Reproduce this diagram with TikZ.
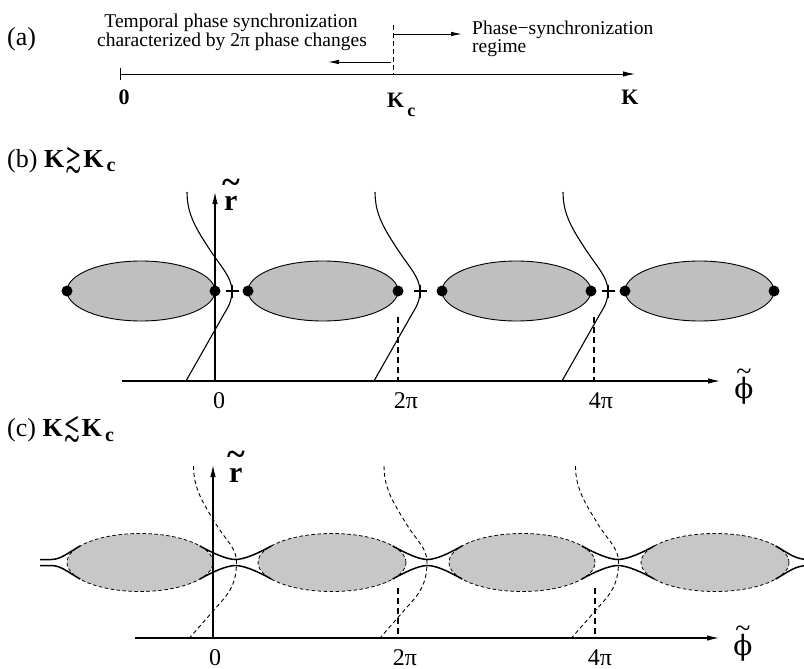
\documentclass[tikz,border=0pt]{standalone}
\usepackage{amsmath}
\usepackage{amssymb}
\usepackage{graphicx}
\usepackage{fontspec}
\setmainfont{Liberation Serif}
\newfontfamily\phifont{DejaVu Serif}
\usetikzlibrary{arrows.meta}
\tikzset{
  axarrow/.style={-{Latex[length=12pt,width=5.5pt]}},
  axisline/.style={line width=1.1pt},
  fillb/.style={fill=black!25, draw=black, line width=0.9pt},
  fillc/.style={fill=black!22, draw=black, line width=0.8pt, dash pattern=on 3.5pt off 2.5pt},
  scurve/.style={line width=1.1pt},
  dcurve/.style={line width=0.9pt, dash pattern=on 4pt off 3pt},
  tickdash/.style={line width=1.3pt, dash pattern=on 6pt off 4pt},
  chan/.style={line width=1.5pt},
  blackdot/.style={fill=black},
  txt/.style={font=\fontsize{19.5}{19}\selectfont, inner sep=0pt},
  lbl/.style={font=\fontsize{24}{24}\selectfont, inner sep=0pt},
  headtxt/.style={font=\fontsize{26}{26}\selectfont, inner sep=0pt},
  boldlbl/.style={font=\fontsize{22}{22}\selectfont\bfseries, inner sep=0pt},
  greek/.style={font=\fontsize{28}{28}\selectfont, inner sep=0pt},
  rlbl/.style={font=\fontsize{30}{30}\selectfont\bfseries, inner sep=0pt},
}
\newcommand\chanpair[4]{%
  \pgfmathsetmacro\chXa{#1+0.819*#2}%
  \pgfmathsetmacro\chXb{#3-0.819*#4}%
  \pgfmathsetmacro\chQ{(#1+#2+#3-#4)/2}%
  \draw[chan] (\chXa,545.9) .. controls (\chXa+12.2,552.8) and (\chQ-9,559.5) .. (\chQ,559.5)
     .. controls (\chQ+9,559.5) and (\chXb-12.2,552.8) .. (\chXb,545.9);
  \draw[chan] (\chXa,579.1) .. controls (\chXa+12.2,572.2) and (\chQ-9,565.5) .. (\chQ,565.5)
     .. controls (\chQ+9,565.5) and (\chXb-12.2,572.2) .. (\chXb,579.1);
}
\newcommand\rtil{\ooalign{r\cr\hidewidth\raisebox{17pt}{\fontsize{34}{34}\selectfont\textasciitilde}\hidewidth\cr}}
\newcommand\phitil{\ooalign{\phifont ϕ\cr\hidewidth\raisebox{18pt}{\textasciitilde}\hidewidth\cr}}
\newcommand\headK[1]{\textbf{K}\hspace{2pt}\scalebox{0.75}[1]{$\pmb{#1}$}\hspace{2pt}\textbf{K}\hspace{3pt}\raisebox{-5pt}{\fontsize{20}{20}\selectfont\bfseries c}}
\begin{document}
\begin{tikzpicture}[x=1pt,y=-1pt]
\useasboundingbox (0,0) rectangle (804,669);

% ---------------- panel (a)
\node[headtxt, anchor=base west] (la) at (7,46) {(a)};
\node[txt, anchor=base] (t1) at (231,28) {Temporal phase synchronization};
\node[txt, anchor=base] (t2) at (232,47) {characterized by 2π phase changes};
\node[txt, anchor=base west] (t3) at (472,35) {Phase−synchronization};
\node[txt, anchor=base west] (t4) at (472,53) {regime};
\coordinate (a0) at (120,74);
\coordinate (aE) at (635,74);
\draw[line width=0.9pt, axarrow] (a0) -- (aE);
\draw[line width=0.9pt] (120,68) -- (120,80);
\coordinate (kcTop) at (393,25);
\coordinate (kcBot) at (393,74);
\draw[line width=0.9pt, dash pattern=on 5pt off 3pt] (kcTop) -- (kcBot);
\coordinate (rA0) at (393,34);
\coordinate (rA1) at (462,34);
\draw[line width=0.9pt, -{Latex[length=11pt,width=4.5pt]}] (rA0) -- (rA1);
\coordinate (lA0) at (391,62);
\coordinate (lA1) at (328,62);
\draw[line width=0.9pt, -{Latex[length=11pt,width=4.5pt]}] (lA0) -- (lA1);
\node[boldlbl, anchor=base] (l0) at (124,105) {0};
\node[boldlbl, anchor=base] (lK) at (630,104) {K};
\node[boldlbl, anchor=base west] (lKc) at (387,108) {K\hspace{3pt}\raisebox{-9pt}{\fontsize{18}{18}\selectfont c}};

% ---------------- panel (b)
\node[headtxt, anchor=base west] (hb) at (7,167) {(b) \headK{\gtrsim}};
\foreach \cx/\ax in {141/74, 323/75, 516.5/74.5, 699.5/74.5}
  \draw[fillb] (\cx,291) ellipse [x radius=\ax pt, y radius=30pt];
\foreach \q in {232,420,608}
  \draw[scurve, shift={(\q,0)}] (-45,192) .. controls (-45,215) and (-35,230) .. (-22,250)
     .. controls (-10,268) and (0,278) .. (0,291) .. controls (0,300) and (-3,306) .. (-8,314) -- (-46,381);
\coordinate (bx0) at (122,381);
\coordinate (bx1) at (720,381);
\coordinate (by0) at (215,381);
\coordinate (by1) at (215,192);
\draw[axisline, axarrow] (bx0) -- (bx1);
\draw[axisline, axarrow] (by0) -- (by1);
\foreach \x in {67,215,248,398,442,591,625,774}
  \fill[blackdot] (\x,291) circle [radius=5.5pt];
\foreach \x in {232,420,608}
  \draw[line width=1.4pt] (\x-6.5,291) -- (\x+6.5,291) (\x,284.5) -- (\x,297.5);
\draw[tickdash] (398,317) -- (398,381);
\draw[tickdash] (594,317) -- (594,381);
\node[lbl, anchor=base] (b0) at (219,408) {0};
\node[lbl, anchor=base] (b2) at (406,408) {2π};
\node[lbl, anchor=base] (b4) at (601,408) {4π};
\node[greek, anchor=base] (bphi) at (744,398) {\phitil};
\node[rlbl, anchor=base west] (br) at (224,210) {\rtil};

% ---------------- panel (c)
\node[headtxt, anchor=base west] (hc) at (7,436) {(c) \headK{\lesssim}};
\foreach \cx/\ax in {140/73, 332/74, 522/73, 715/74}
  \draw[fillc] (\cx,562.5) ellipse [x radius=\ax pt, y radius=29pt];
\chanpair{140}{73}{332}{74}
\chanpair{332}{74}{522}{73}
\chanpair{522}{73}{715}{74}
% left and right ends
\draw[chan] (80.2,545.9) .. controls (68,552.8) and (61,559.5) .. (51,559.5) -- (40,559.5);
\draw[chan] (80.2,579.1) .. controls (68,572.2) and (61,565.5) .. (51,565.5) -- (40,565.5);
\draw[chan] (775.6,545.9) .. controls (787.8,552.8) and (795,559.5) .. (808,559.5);
\draw[chan] (775.6,579.1) .. controls (787.8,572.2) and (795,565.5) .. (808,565.5);
\foreach \q in {236.5,427,618.5}
  \draw[dcurve, shift={(\q,0)}] (-43,466) .. controls (-43,490) and (-32,505) .. (-20,525)
     .. controls (-10,541) and (0,548) .. (0,562) .. controls (0,578) and (-4,588) .. (-12,598) -- (-47,638);
\coordinate (cx0) at (135,638);
\coordinate (cx1) at (719,638);
\coordinate (cy0) at (213,638);
\coordinate (cy1) at (213,465);
\draw[axisline, axarrow] (cx0) -- (cx1);
\draw[axisline, axarrow] (cy0) -- (cy1);
\draw[tickdash] (398,588) -- (398,638);
\draw[tickdash] (595,588) -- (595,638);
\node[lbl, anchor=base] (c0) at (215,665) {0};
\node[lbl, anchor=base] (c2) at (405,665) {2π};
\node[lbl, anchor=base] (c4) at (600,665) {4π};
\node[greek, anchor=base] (cphi) at (743,655) {\phitil};
\node[rlbl, anchor=base west] (cr) at (229,482) {\rtil};
\end{tikzpicture}
\end{document}
